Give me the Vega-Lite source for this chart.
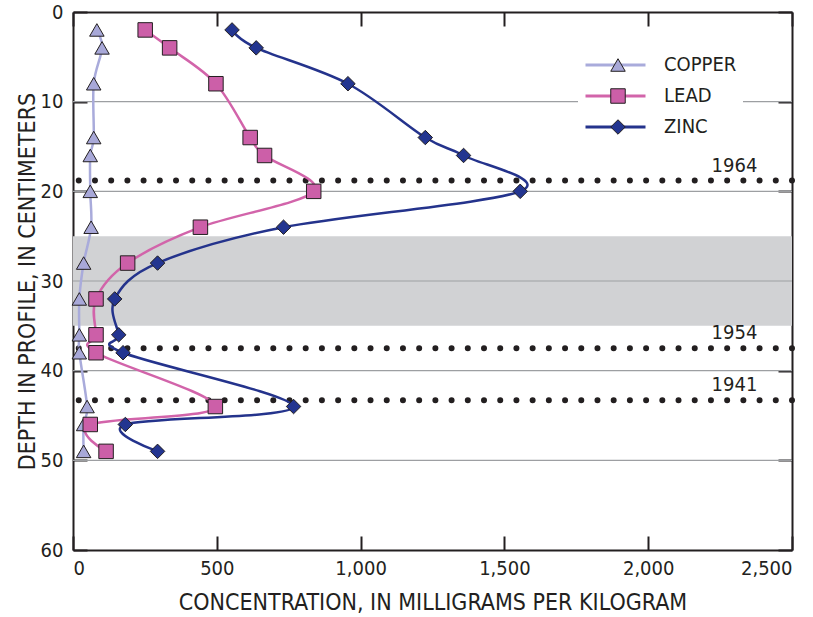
{
  "$schema": "https://vega.github.io/schema/vega-lite/v6.json",
  "width": 719,
  "height": 538,
  "autosize": "none",
  "padding": {"left": 73, "top": 12, "right": 21, "bottom": 67},
  "background": "white",
  "config": {
    "view": {"stroke": null},
    "font": "Liberation Sans Narrow, DejaVu Sans Condensed, sans-serif",
    "axis": {
      "grid": false,
      "domainColor": "#231f20",
      "domainWidth": 2,
      "tickColor": "#231f20",
      "tickWidth": 2,
      "labelFont": "Liberation Sans Narrow, DejaVu Sans Condensed, sans-serif",
      "labelFontSize": 20,
      "labelColor": "#231f20",
      "titleFont": "Liberation Sans Narrow, DejaVu Sans Condensed, sans-serif",
      "titleFontSize": 23,
      "titleFontWeight": "normal",
      "titleColor": "#231f20"
    }
  },
  "datasets": {
    "metals": [
      {"element": "COPPER", "depth": 2, "conc": 83},
      {"element": "COPPER", "depth": 4, "conc": 101},
      {"element": "COPPER", "depth": 8, "conc": 72},
      {"element": "COPPER", "depth": 14, "conc": 72},
      {"element": "COPPER", "depth": 16, "conc": 60},
      {"element": "COPPER", "depth": 20, "conc": 60},
      {"element": "COPPER", "depth": 24, "conc": 63},
      {"element": "COPPER", "depth": 28, "conc": 37},
      {"element": "COPPER", "depth": 32, "conc": 22},
      {"element": "COPPER", "depth": 36, "conc": 22},
      {"element": "COPPER", "depth": 38, "conc": 22},
      {"element": "COPPER", "depth": 44, "conc": 49},
      {"element": "COPPER", "depth": 46, "conc": 37},
      {"element": "COPPER", "depth": 49, "conc": 37},
      {"element": "LEAD", "depth": 2, "conc": 251},
      {"element": "LEAD", "depth": 4, "conc": 336},
      {"element": "LEAD", "depth": 8, "conc": 497},
      {"element": "LEAD", "depth": 14, "conc": 616},
      {"element": "LEAD", "depth": 16, "conc": 666},
      {"element": "LEAD", "depth": 20, "conc": 837},
      {"element": "LEAD", "depth": 24, "conc": 443},
      {"element": "LEAD", "depth": 28, "conc": 190},
      {"element": "LEAD", "depth": 32, "conc": 80},
      {"element": "LEAD", "depth": 36, "conc": 80},
      {"element": "LEAD", "depth": 38, "conc": 80},
      {"element": "LEAD", "depth": 44, "conc": 495},
      {"element": "LEAD", "depth": 46, "conc": 60},
      {"element": "LEAD", "depth": 49, "conc": 115},
      {"element": "ZINC", "depth": 2, "conc": 553},
      {"element": "ZINC", "depth": 4, "conc": 637},
      {"element": "ZINC", "depth": 8, "conc": 956},
      {"element": "ZINC", "depth": 14, "conc": 1225},
      {"element": "ZINC", "depth": 16, "conc": 1358},
      {"element": "ZINC", "depth": 20, "conc": 1555},
      {"element": "ZINC", "depth": 24, "conc": 732},
      {"element": "ZINC", "depth": 28, "conc": 294},
      {"element": "ZINC", "depth": 32, "conc": 145},
      {"element": "ZINC", "depth": 36, "conc": 159},
      {"element": "ZINC", "depth": 38, "conc": 174},
      {"element": "ZINC", "depth": 44, "conc": 767},
      {"element": "ZINC", "depth": 46, "conc": 182},
      {"element": "ZINC", "depth": 49, "conc": 294}
    ],
    "band": [{"top": 25, "bottom": 35}],
    "grid": [{"depth": 10}, {"depth": 20}, {"depth": 30}, {"depth": 40}, {"depth": 50}],
    "years": [
      {"year": "1964", "depth": 18.8},
      {"year": "1954", "depth": 37.5},
      {"year": "1941", "depth": 43.3}
    ]
  },
  "resolve": {"axis": {"x": "independent", "y": "independent"}},
  "layer": [
    {
      "data": {"name": "band"},
      "mark": {"type": "rect", "color": "#d1d2d4"},
      "encoding": {
        "y": {"field": "top", "type": "quantitative", "scale": {"domain": [0, 60], "reverse": true},
          "axis": {"orient": "left", "values": [0, 10, 20, 30, 40, 50, 60], "tickSize": -14, "labelPadding": 24, "title": "DEPTH IN PROFILE, IN CENTIMETERS", "titlePadding": 1}},
        "y2": {"field": "bottom"}
      }
    },
    {
      "data": {"name": "grid"},
      "mark": {"type": "rule", "color": "#9d9fa2", "strokeWidth": 1.2},
      "encoding": {
        "y": {"field": "depth", "type": "quantitative", "scale": {"domain": [0, 60], "reverse": true},
          "axis": {"orient": "right", "values": [0, 10, 20, 30, 40, 50, 60], "tickSize": -14, "labels": false, "title": null}}
      }
    },
    {
      "data": {"name": "years"},
      "mark": {"type": "rule", "color": "#231f20", "strokeWidth": 6, "strokeCap": "round", "strokeDash": [0.01, 16.2]},
      "encoding": {
        "y": {"field": "depth", "type": "quantitative", "scale": {"domain": [0, 60], "reverse": true}, "axis": null}
      }
    },
    {
      "data": {"name": "years"},
      "mark": {"type": "text", "fontSize": 20, "color": "#231f20", "dy": -15, "align": "center"},
      "encoding": {
        "x": {"datum": 2300, "type": "quantitative", "scale": {"domain": [0, 2500]}, "axis": null},
        "y": {"field": "depth", "type": "quantitative", "scale": {"domain": [0, 60], "reverse": true}, "axis": null},
        "text": {"field": "year"}
      }
    },
    {
      "data": {"name": "metals"},
      "mark": {"type": "line", "interpolate": "cardinal", "strokeWidth": 2.5},
      "encoding": {
        "x": {"field": "conc", "type": "quantitative", "scale": {"domain": [0, 2500]},
          "axis": {"orient": "bottom", "values": [0, 500, 1000, 1500, 2000, 2500], "format": ",.0f", "tickSize": -14, "labelPadding": 22, "title": "CONCENTRATION, IN MILLIGRAMS PER KILOGRAM", "titlePadding": 13}},
        "y": {"field": "depth", "type": "quantitative", "scale": {"domain": [0, 60], "reverse": true}, "axis": null},
        "order": {"field": "depth"},
        "stroke": {"field": "element", "type": "nominal",
          "scale": {"domain": ["COPPER", "LEAD", "ZINC"], "range": ["#a9abdb", "#d264aa", "#24338c"]},
          "legend": {"orient": "none", "legendX": 505, "legendY": 37, "title": null, "symbolType": "stroke", "symbolSize": 3600, "symbolStrokeWidth": 3, "clipHeight": 20, "rowPadding": 11, "labelFontSize": 20, "labelColor": "#231f20", "labelOffset": 17, "padding": 6, "fillColor": "white", "zindex": 0}}
      }
    },
    {
      "data": {"name": "metals"},
      "mark": {"type": "point", "filled": true, "size": 210, "stroke": "#231f20", "strokeWidth": 1, "opacity": 1},
      "encoding": {
        "x": {"field": "conc", "type": "quantitative", "scale": {"domain": [0, 2500]},
          "axis": {"orient": "top", "values": [0, 500, 1000, 1500, 2000, 2500], "tickSize": -14, "labels": false, "title": null}},
        "y": {"field": "depth", "type": "quantitative", "scale": {"domain": [0, 60], "reverse": true}, "axis": null},
        "fill": {"field": "element", "type": "nominal",
          "scale": {"range": ["#a8a8d8", "#cc5fa8", "#233590"]},
          "legend": {"orient": "none", "legendX": 529, "legendY": 37, "title": null, "symbolSize": 210, "symbolStrokeColor": "#231f20", "symbolStrokeWidth": 1, "symbolOpacity": 1, "clipHeight": 20, "rowPadding": 11, "labelFontSize": 20, "labelExpr": "''", "padding": 6, "zindex": 1}},
        "shape": {"field": "element", "type": "nominal",
          "scale": {"range": ["triangle-up", "square", "diamond"]}}
      }
    }
  ]
}
